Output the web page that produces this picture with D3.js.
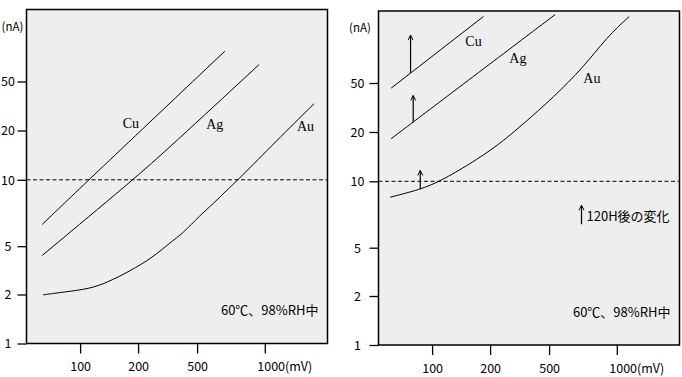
<!DOCTYPE html>
<html>
<head>
<meta charset="utf-8">
<script src="https://cdn.jsdelivr.net/npm/d3@7"></script>
<style>
body { margin: 0; background: #fff; }
svg { display: block; }
text { font-family: "Noto Sans CJK JP", "Liberation Sans", sans-serif; fill: #000; }
</style>
</head>
<body>
<svg id="chart" width="682" height="377"></svg>
<script>
// axis ticks
var xTicks = [100, 200, 500, 1000];
var xTickLabels = ["100", "200", "500", "1000(mV)"];
var yTicks = [1, 2, 5, 10, 20, 50];
var yUnit = "(nA)";
var refLevel = 10;

// left panel - initial values (mV, nA)
var cuX1 = [63.5, 111, 664];
var cuY1 = [6.27, 10, 88.1];
var agX1 = [63.5, 188.4, 327.2, 943.4];
var agY1 = [4.19, 10, 15.8, 68.7];
var auX1 = [64.3, 81.6, 112.3, 137.1, 181.1, 252.5, 327.2, 402.3, 514, 589.1, 675.5, 760.7, 1127, 1656];
var auY1 = [1.99, 2.09, 2.23, 2.50, 3.11, 4.06, 5.18, 5.73, 6.89, 7.78, 8.94, 10, 17.3, 33.0];

// right panel - after 120H
var cuX2 = [61.3, 184.9];
var cuY2 = [45.4, 173.5];
var agX2 = [61.3, 164, 532.3];
var agY2 = [18.2, 56.6, 180];
var auX2 = [60.6, 86.8, 110.2, 157.6, 222.3, 336, 523, 711, 903.6, 1135.5];
var auY2 = [8.47, 9.18, 10, 12.79, 16.38, 23.3, 38.3, 67.2, 117.8, 173.5];

// change arrows (right panel): x, from, to
var arrowX = [77.3, 79.8, 86.8];
var arrowFrom = [60.5, 24.0, 9.2];
var arrowTo = [122.3, 39.6, 11.64];

// series labels
var seriesNames = ["Cu", "Ag", "Au"];
var labelX1 = [183.3, 599.5, 1517];
var labelY1 = [23.0, 22.6, 21.6];
var labelX2 = [164, 307.9, 775];
var labelY2 = [109.3, 80.1, 55.1];

var conditionText = "60℃、98%RH中";
var legendText = "120H後の変化";

var W = 301, H = 334;

// the printed axes are not evenly spaced, so piecewise log scales
var x = d3.scaleLog().domain(xTicks).range([53.6, 111.6, 170.6, 238.3]);
var y = d3.scaleLog().domain(yTicks).range([334, 285, 236.7, 170.3, 121, 72]);

var svg = d3.select("#chart");

svg.append("defs").append("marker")
    .attr("id", "arr")
    .attr("viewBox", "-6 -4 8 8")
    .attr("markerWidth", 8)
    .attr("markerHeight", 8)
    .attr("markerUnits", "userSpaceOnUse")
    .attr("orient", "auto")
  .append("path")
    .attr("d", "M-5,-2.5L0,0L-5,2.5")
    .attr("fill", "none")
    .attr("stroke", "#000")
    .attr("stroke-width", 1);

// basis curve smooths out the small reading errors
var line = d3.line()
    .x(function(d) { return x(d[0]); })
    .y(function(d) { return y(d[1]); })
    .curve(d3.curveBasis);

function zip(a, b) {
    return a.map(function(v, i) { return [v, b[i]]; });
}

function drawPanel(g, series, labX, labY, tickLabelX, unitX) {
    g.append("rect")
        .attr("width", W)
        .attr("height", H)
        .attr("fill", "#eeeeee")
        .attr("stroke", "#000")
        .attr("stroke-width", 1.5);

    // y axis
    var ya = g.append("g").call(d3.axisLeft(y).tickValues(yTicks).tickSize(9).tickFormat(d3.format("d")));
    ya.select(".domain").remove();
    ya.selectAll("line").attr("stroke-width", 1.3);
    ya.selectAll("text")
        .attr("x", tickLabelX)
        .attr("dy", "0.35em")
        .attr("text-anchor", "middle")
        .style("font-size", "12.5px")
        .style("font-family", null);

    // x axis
    var xa = g.append("g")
        .attr("transform", "translate(0," + H + ")")
        .call(d3.axisBottom(x).tickValues(xTicks).tickSize(10).tickFormat(function(d, i) { return xTickLabels[i]; }));
    xa.select(".domain").remove();
    xa.selectAll("line").attr("stroke-width", 1.3);
    xa.selectAll("text")
        .attr("y", 23.5)
        .attr("dy", "0.35em")
        .style("font-size", "12.5px")
        .style("font-family", null)
        .attr("text-anchor", function(d, i) { return i == xTicks.length - 1 ? "start" : "middle"; })
        .attr("x", function(d, i) { return i == xTicks.length - 1 ? -8 : 0; });

    g.append("text")
        .attr("x", unitX)
        .attr("y", 17)
        .attr("dy", "0.35em")
        .attr("text-anchor", "middle")
        .style("font-size", "11.5px")
        .text(yUnit);

    // 10nA reference
    g.append("line")
        .attr("x1", 0)
        .attr("x2", W)
        .attr("y1", y(refLevel))
        .attr("y2", y(refLevel))
        .attr("stroke", "#000")
        .attr("stroke-width", 1)
        .attr("stroke-dasharray", "4,2.5");

    g.selectAll("path.curve")
        .data(series)
        .enter()
        .append("path")
        .attr("class", "curve")
        .attr("d", line)
        .attr("fill", "none")
        .attr("stroke", "#000")
        .attr("stroke-width", 1);

    g.selectAll("text.name")
        .data(seriesNames)
        .enter()
        .append("text")
        .attr("class", "name")
        .attr("x", function(d, i) { return x(labX[i]); })
        .attr("y", function(d, i) { return y(labY[i]); })
        .attr("dy", "0.35em")
        .attr("text-anchor", "middle")
        .style("font-family", "'Liberation Serif', serif")
        .style("font-size", "14px")
        .text(function(d) { return d; });

    g.append("text")
        .attr("x", W - 9)
        .attr("y", H - 33)
        .attr("dy", "0.35em")
        .attr("text-anchor", "end")
        .style("font-size", "13px")
        .text(conditionText);
}

var left = svg.append("g").attr("transform", "translate(26.5,9.5)");
drawPanel(left, [zip(cuX1, cuY1), zip(agX1, agY1), zip(auX1, auY1)], labelX1, labelY1, -18.5, -14);

var right = svg.append("g").attr("transform", "translate(378.5,11)");
drawPanel(right, [zip(cuX2, cuY2), zip(agX2, agY2), zip(auX2, auY2)], labelX2, labelY2, -21, -18.5);

// shift after 120H
right.selectAll("line.arrow")
    .data(arrowX)
    .enter()
    .append("line")
    .attr("class", "arrow")
    .attr("x1", function(d) { return x(d); })
    .attr("x2", function(d) { return x(d); })
    .attr("y1", function(d, i) { return y(arrowFrom[i]); })
    .attr("y2", function(d, i) { return y(arrowTo[i]); })
    .attr("stroke", "#000")
    .attr("stroke-width", 1.2)
    .attr("marker-end", "url(#arr)");

// legend for the arrows
var lg = right.append("g").attr("transform", "translate(203," + (y(refLevel) + 43) + ")");
lg.append("line")
    .attr("x1", 0).attr("x2", 0)
    .attr("y1", 0).attr("y2", -19)
    .attr("stroke", "#000")
    .attr("stroke-width", 1.2)
    .attr("marker-end", "url(#arr)");
lg.append("text")
    .attr("x", 5)
    .attr("y", -8)
    .attr("dy", "0.35em")
    .style("font-size", "13px")
    .text(legendText);
</script>
</body>
</html>
